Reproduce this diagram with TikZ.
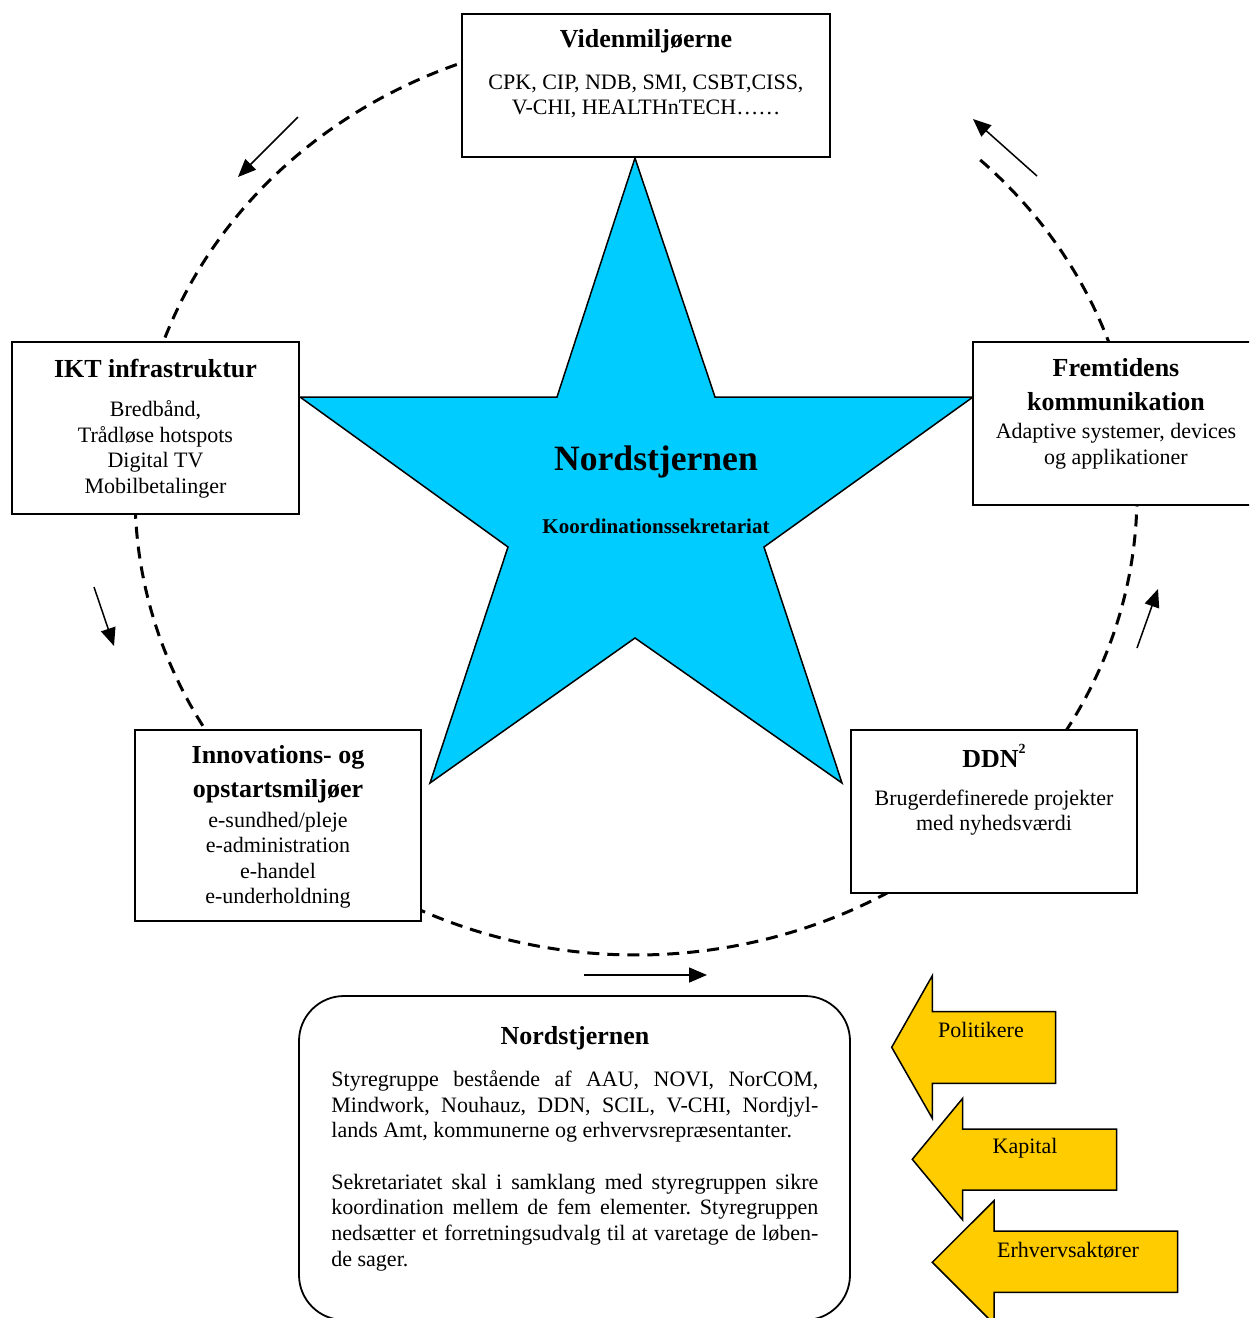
\documentclass[tikz,border=0pt]{standalone}
\usepackage{fontspec}
\setmainfont{Liberation Serif}
\usetikzlibrary{arrows.meta}
\definecolor{starblue}{HTML}{00CCFF}
\definecolor{gold}{HTML}{FFCC00}

\begin{document}
\frenchspacing
\begin{tikzpicture}[x=0.5pt,y=-0.5pt,
  box/.style={draw, line width=0.9pt, fill=white, inner sep=0pt},
  ttl/.style={font=\fontsize{13}{17}\selectfont\bfseries, align=center, inner sep=0pt},
  body/.style={font=\fontsize{11}{12.75}\selectfont, align=center, inner sep=0pt},
  orbit/.style={line width=1.5pt, dash pattern=on 6pt off 4pt},
  flow/.style={line width=0.75pt, -{Triangle[length=9pt,width=7.5pt]}},
  bigarrow/.style={draw, line width=0.75pt, fill=gold},
]
\clip (0,0) rectangle (1249,1318);
\fill[white] (0,0) rectangle (1249,1318);

% dashed orbit linking the five elements
\draw[orbit] plot[domain=-165:-110, samples=60, smooth, variable=\t] ({636+501*cos(\t)},{494.5+460.5*sin(\t)});
\draw[orbit] plot[domain=145:180, samples=40, smooth, variable=\t] ({636+501*cos(\t)},{494.5+460.5*sin(\t)});
\draw[orbit] plot[domain=55:120, samples=60, smooth, variable=\t] ({636+501*cos(\t)},{494.5+460.5*sin(\t)});
\draw[orbit] plot[domain=0:35, samples=40, smooth, variable=\t] ({636+501*cos(\t)},{494.5+460.5*sin(\t)});
\draw[orbit] plot[domain=-46.6:-15, samples=40, smooth, variable=\t] ({636+501*cos(\t)},{494.5+460.5*sin(\t)});

% direction arrows along the orbit
\coordinate (a1s) at (298,117);  \coordinate (a1e) at (238,177);
\coordinate (a2s) at (94,587);   \coordinate (a2e) at (114,646);
\coordinate (a3s) at (584,975);  \coordinate (a3e) at (707,975);
\coordinate (a4s) at (1137,648); \coordinate (a4e) at (1158,589);
\coordinate (a5s) at (1037,176); \coordinate (a5e) at (973,119);
\draw[flow] (a1s) -- (a1e);
\draw[flow] (a2s) -- (a2e);
\draw[flow] (a3s) -- (a3e);
\draw[flow] (a4s) -- (a4e);
\draw[flow] (a5s) -- (a5e);

% the star
\filldraw[fill=starblue, line width=0.75pt]
  (635,158) -- (715,397) -- (973,397) -- (764,547) -- (842,783)
  -- (635,638) -- (430,783) -- (508,547) -- (300,397) -- (557,397) -- cycle;
\node[font=\fontsize{17.8}{20}\selectfont\bfseries, inner sep=0pt] (starname) at (656,462) {Nordstjernen};
\node[font=\fontsize{10.5}{12}\selectfont\bfseries, inner sep=0pt] (starsub) at (656,526) {Koordinationssekretariat};

% element boxes
\node[box, minimum width=184pt, minimum height=71.5pt] (viden) at (646,85.5) {};
\node[ttl] (videnT) at (646,41) {Videnmiljøerne};
\node[body] (videnB) at (646,96.5) {CPK, CIP, NDB, SMI, CSBT,CISS,\\V-CHI, HEALTHnTECH……};

\node[box, minimum width=143.5pt, minimum height=86pt] (ikt) at (155.5,428) {};
\node[ttl] (iktT) at (155.5,368) {IKT infrastruktur};
\node[body] (iktB) at (155.5,449.5) {Bredbånd,\\Trådløse hotspots\\Digital TV\\Mobilbetalinger};

\node[box, minimum width=144.5pt, minimum height=81.5pt] (frem) at (1117.5,423.5) {};
\node[ttl] (fremT) at (1116,385) {Fremtidens\\kommunikation};
\node[body] (fremB) at (1116,446) {Adaptive systemer, devices\\og applikationer};

\node[box, minimum width=143pt, minimum height=95.5pt] (innov) at (278,825.5) {};
\node[ttl] (innovT) at (278,774.5) {Innovations- og\\opstartsmiljøer};
\node[body] (innovB) at (278,860) {e-sundhed/pleje\\e-administration\\e-handel\\e-underholdning};

\node[box, minimum width=143pt, minimum height=81.5pt] (ddn) at (994,811.5) {};
\node[ttl] (ddnT) at (994,756) {DDN\raisebox{0.55em}{\fontsize{7}{8}\selectfont 2}};
\node[body] (ddnB) at (994,812.5) {Brugerdefinerede projekter\\med nyhedsværdi};

% steering group box
\node[box, rounded corners=22.5pt, minimum width=275.5pt, minimum height=162pt] (styre) at (574.5,1158) {};
\node[ttl] (styreT) at (575,1038) {Nordstjernen};
\node[inner sep=0pt, anchor=north west, align=left, font=\fontsize{11}{12.85}\selectfont] (styreB) at (331,1070) {%
\makebox[243.5pt][s]{Styregruppe bestående af AAU, NOVI, NorCOM,}\\
\makebox[243.5pt][s]{Mindwork, Nouhauz, DDN, SCIL, V-CHI, Nordjyl-}\\
lands Amt, kommunerne og erhvervsrepræsentanter.\\[12.85pt]
\makebox[243.5pt][s]{Sekretariatet skal i samklang med styregruppen sikre}\\
\makebox[243.5pt][s]{koordination mellem de fem elementer. Styregruppen}\\
\makebox[243.5pt][s]{nedsætter et forretningsudvalg til at varetage de løben-}\\
de sager.};

% external contributors
\filldraw[bigarrow] (891.7,1047.3) -- (932.3,975.7) -- (932.3,1011.7) -- (1055.7,1011.7)
  -- (1055.7,1083.3) -- (932.3,1083.3) -- (932.3,1118.3) -- cycle;
\node[body] (pol) at (981,1030) {Politikere};
\filldraw[bigarrow] (912.3,1159.3) -- (962.7,1098.3) -- (962.7,1129) -- (1116.7,1129)
  -- (1116.7,1190) -- (962.7,1190) -- (962.7,1220) -- cycle;
\node[body] (kap) at (1025,1148) {Kapital};
\filldraw[bigarrow] (932.3,1262.3) -- (994,1200.7) -- (994,1231) -- (1177.7,1231)
  -- (1177.7,1292.3) -- (994,1292.3) -- (994,1324) -- cycle;
\node[body] (erh) at (1068,1250) {Erhvervsaktører};
\end{tikzpicture}
\end{document}
